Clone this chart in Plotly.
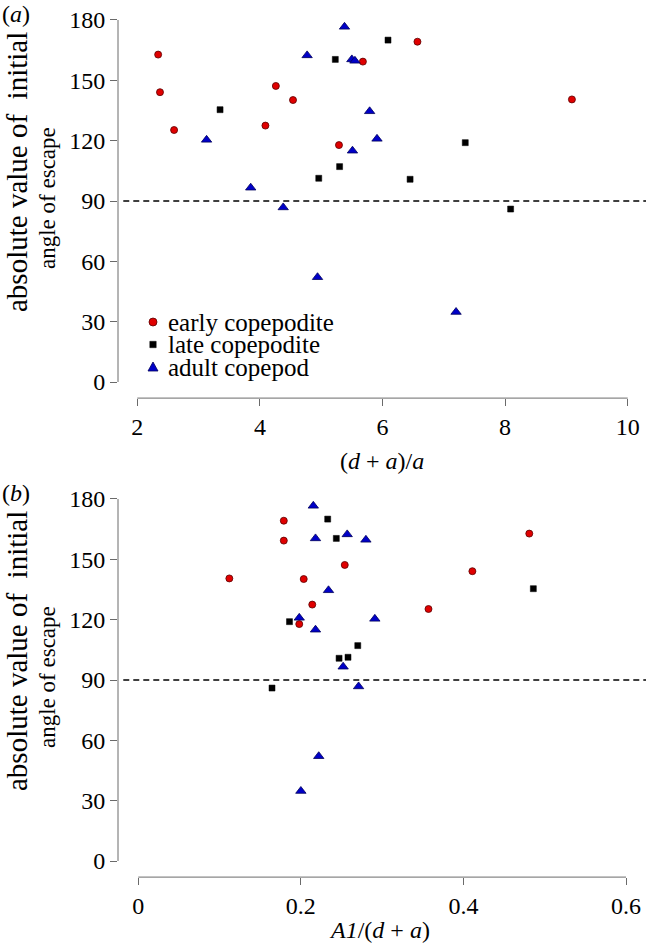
import plotly.graph_objects as go

# ---------------- data ----------------
series_names = ["early copepodite", "late copepodite", "adult copepod"]

ratio_early = [2.34, 2.37, 2.60, 4.26, 4.54, 4.09, 5.29, 5.68, 6.57, 9.09]
a1_early = [0.481, 0.411, 0.357, 0.254, 0.2035, 0.214, 0.198, 0.179, 0.179, 0.112]
angle_early = [162.8, 144.1, 125.3, 147.2, 140.2, 127.5, 117.8, 159.3, 169.2, 140.5]

ratio_late = [3.35, 5.23, 5.30, 4.96, 6.09, 7.35, 6.45, 8.09]
a1_late = [0.486, 0.2436, 0.270, 0.258, 0.233, 0.186, 0.247, 0.1645]
angle_late = [135.4, 160.4, 107.1, 101.3, 170.0, 119.0, 100.8, 86.0]

ratio_adult = [5.38, 4.77, 5.50, 5.55, 5.79, 5.91, 3.13, 5.51, 3.85, 4.38, 4.94, 7.20]
a1_adult = [0.2153, 0.257, 0.218, 0.280, 0.234, 0.198, 0.291, 0.218, 0.252, 0.271, 0.222, 0.200]
angle_adult = [176.6, 162.4, 160.4, 159.7, 134.6, 120.9, 120.4, 115.0, 96.6, 86.8, 52.1, 34.8]

threshold = 90
y_ticks = [0, 30, 60, 90, 120, 150, 180]
xa_ticks = [2, 4, 6, 8, 10]
xb_ticks = [0, 0.2, 0.4, 0.6]
xb_ticklabels = ["0", "0.2", "0.4", "0.6"]

# ---------------- styling ----------------
W, H = 646, 946
FONT = "Liberation Serif"
AX = "#6a6a6a"
styles = [
    dict(symbol="circle", size=7, color="#e00000", line=dict(color="#5a0000", width=0.8)),
    dict(symbol="square", size=6, color="#000000", line=dict(color="#000000", width=0.5)),
    dict(symbol="triangle-up", size=9, color="#0000c8", line=dict(color="#00005a", width=0.8)),
]

def px(x):
    return x / W

def py(y):
    return 1 - y / H

fig = go.Figure()

xs_a = [ratio_early, ratio_late, ratio_adult]
xs_b = [a1_early, a1_late, a1_adult]
ys = [angle_early, angle_late, angle_adult]

for i in range(3):
    fig.add_trace(go.Scatter(x=xs_a[i], y=ys[i], mode="markers", name=series_names[i],
                             marker=styles[i], xaxis="x", yaxis="y", showlegend=False,
                             cliponaxis=False))
    fig.add_trace(go.Scatter(x=xs_b[i], y=ys[i], mode="markers", name=series_names[i],
                             marker=styles[i], xaxis="x2", yaxis="y2", showlegend=False,
                             cliponaxis=False))

xdom = [px(118), 1.0]
axis_common = dict(showgrid=False, zeroline=False, showline=False, ticks="outside",
                   ticklen=7, tickwidth=1, tickcolor=AX,
                   tickfont=dict(family=FONT, size=24, color="black"))

fig.update_layout(
    width=W, height=H,
    margin=dict(l=0, r=0, t=0, b=0),
    paper_bgcolor="white", plot_bgcolor="white",
    showlegend=False,
    font=dict(family=FONT),
    xaxis=dict(domain=xdom, range=[1.685, 10.2985], anchor="y",
               tickmode="array", tickvals=xa_ticks, **axis_common),
    yaxis=dict(domain=[1 - 398.1 / H, 1 - 3.9 / H], range=[-8, 188], anchor="x",
               tickmode="array", tickvals=y_ticks, **axis_common),
    xaxis2=dict(domain=xdom, range=[-0.02498, 0.6246], anchor="y2",
                tickmode="array", tickvals=xb_ticks, ticktext=xb_ticklabels, **axis_common),
    yaxis2=dict(domain=[1 - 877.1 / H, 1 - 482.9 / H], range=[-8, 188], anchor="x2",
                tickmode="array", tickvals=y_ticks, **axis_common),
)

shapes = []
# axis lines spanning only the tick range (R style)
for xr, yr, xt in [("x", "y", xa_ticks), ("x2", "y2", xb_ticks)]:
    shapes.append(dict(type="line", xref=xr, yref=yr + " domain", x0=xt[0], x1=xt[-1], y0=0, y1=0,
                       line=dict(color=AX, width=1)))
    shapes.append(dict(type="line", xref=xr + " domain", yref=yr, x0=0, x1=0,
                       y0=y_ticks[0], y1=y_ticks[-1], line=dict(color=AX, width=1)))
    shapes.append(dict(type="line", xref=xr + " domain", yref=yr, x0=0.01, x1=1, y0=threshold, y1=threshold,
                       line=dict(color="black", width=1.3, dash="6px,4px")))

# legend (panel a), manual to match compact R legend
leg_x, leg_x_text = 153, 166
leg_rows = [322, 344.5, 367]
r = 4
shapes.append(dict(type="circle", xref="paper", yref="paper",
                   x0=px(leg_x - r), x1=px(leg_x + r), y0=py(leg_rows[0] + r), y1=py(leg_rows[0] - r),
                   fillcolor="#e00000", line=dict(color="#5a0000", width=0.8)))
s = 3.2
shapes.append(dict(type="rect", xref="paper", yref="paper",
                   x0=px(leg_x - s), x1=px(leg_x + s), y0=py(leg_rows[1] + s), y1=py(leg_rows[1] - s),
                   fillcolor="#000000", line=dict(color="#000000", width=0.5)))
t = 5
yc = leg_rows[2]
shapes.append(dict(type="path", xref="paper", yref="paper",
                   path=f"M {px(leg_x - t)},{py(yc + 4)} L {px(leg_x + t)},{py(yc + 4)} L {px(leg_x)},{py(yc - 5)} Z",
                   fillcolor="#0000c8", line=dict(color="#00005a", width=0.8)))

annotations = []
for name, yrow in zip(series_names, leg_rows):
    annotations.append(dict(text=name, x=px(leg_x_text), y=py(yrow), xref="paper", yref="paper",
                            xanchor="left", yanchor="middle", showarrow=False,
                            font=dict(family=FONT, size=25, color="black")))

# panel labels
annotations.append(dict(text="(<i>a</i>)", x=0, y=py(14), xref="paper", yref="paper",
                        xanchor="left", yanchor="middle", showarrow=False,
                        font=dict(family=FONT, size=24, color="black")))
annotations.append(dict(text="(<i>b</i>)", x=0, y=py(493), xref="paper", yref="paper",
                        xanchor="left", yanchor="middle", showarrow=False,
                        font=dict(family=FONT, size=24, color="black")))

# x titles
annotations.append(dict(text="(<i>d</i> + <i>a</i>)/<i>a</i>", x=px(382), y=py(461), xref="paper", yref="paper",
                        xanchor="center", yanchor="middle", showarrow=False,
                        font=dict(family=FONT, size=24, color="black")))
annotations.append(dict(text="<i>A1</i>/(<i>d</i> + <i>a</i>)", x=px(379), y=py(930), xref="paper", yref="paper",
                        xanchor="center", yanchor="middle", showarrow=False,
                        font=dict(family=FONT, size=24, color="black")))

# y titles (two lines each)
for off in (0, 479):
    annotations.append(dict(text="absolute value of  initial", x=px(17), y=py(172 + off), xref="paper", yref="paper",
                            xanchor="center", yanchor="middle", textangle=-90, showarrow=False,
                            font=dict(family=FONT, size=29, color="black")))
    annotations.append(dict(text="angle of escape", x=px(47), y=py(198 + off), xref="paper", yref="paper",
                            xanchor="center", yanchor="middle", textangle=-90, showarrow=False,
                            font=dict(family=FONT, size=23, color="black")))

fig.update_layout(shapes=shapes, annotations=annotations)
fig.write_html("out.html",
               config={"displayModeBar": False},
               post_script="document.body.style.margin='0';document.body.style.overflow='hidden';")
